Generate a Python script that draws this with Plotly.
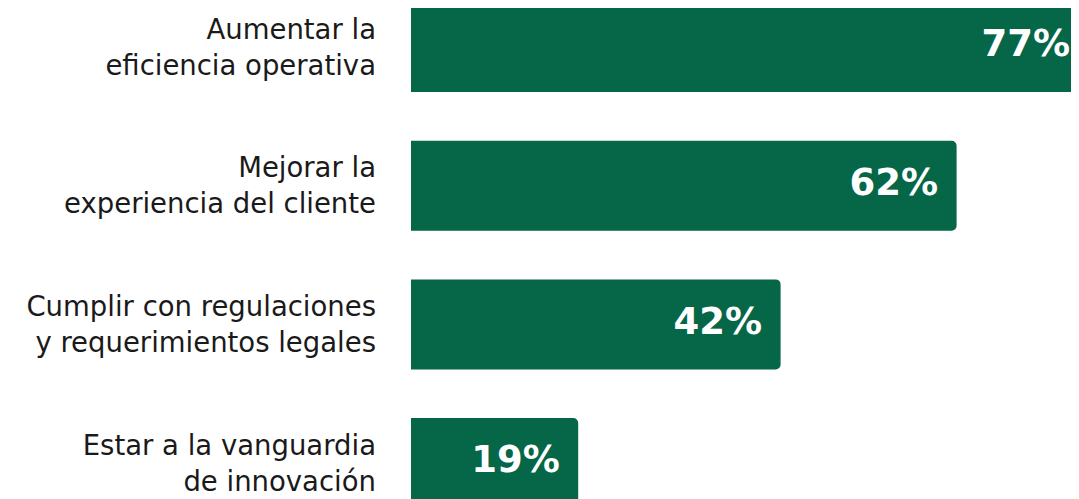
import plotly.graph_objects as go

categories = [
    "Aumentar la<br>eficiencia operativa",
    "Mejorar la<br>experiencia del cliente",
    "Cumplir con regulaciones<br>y requerimientos legales",
    "Estar a la vanguardia<br>de innovación",
]
values = [77, 62, 42, 19]
value_labels = [f"{v}%" for v in values]
positions = list(range(len(categories)))

GREEN = "#056648"
OFFSET = 8            # default page body margin
PX_PER_UNIT = 8.8
LEFT = 411 - OFFSET
PLOT_W = 1079 - LEFT
ROW_PX = 138.7
BAR_PX = 90
H = 499

fig = go.Figure()
fig.add_trace(go.Bar(
    x=values, y=positions, orientation="h",
    marker=dict(color=GREEN, cornerradius=5, line=dict(width=0)),
    width=BAR_PX / ROW_PX,
    hoverinfo="skip",
))
fig.add_trace(go.Scatter(
    x=[v - 2.1 for v in values], y=positions, mode="text",
    text=value_labels, textposition="middle left",
    textfont=dict(family="DejaVu Sans", size=37, color="white", weight="bold"),
    cliponaxis=False, hoverinfo="skip",
))

ytop = -(47 - OFFSET) / ROW_PX
ybot = ytop + H / ROW_PX
fig.update_layout(
    width=1079, height=499,
    margin=dict(l=LEFT, r=0, t=0, b=0),
    paper_bgcolor="white", plot_bgcolor="white",
    showlegend=False,
    xaxis=dict(range=[0, PLOT_W / PX_PER_UNIT], visible=False, fixedrange=True),
    yaxis=dict(
        range=[ybot, ytop],
        tickvals=positions, ticktext=categories,
        showgrid=False, zeroline=False, showline=False,
        ticks="", ticklabelstandoff=34,
        tickfont=dict(family="DejaVu Sans", size=27.5, color="#1a1a1a"),
        fixedrange=True,
    ),
)
fig.write_html("out.html")
